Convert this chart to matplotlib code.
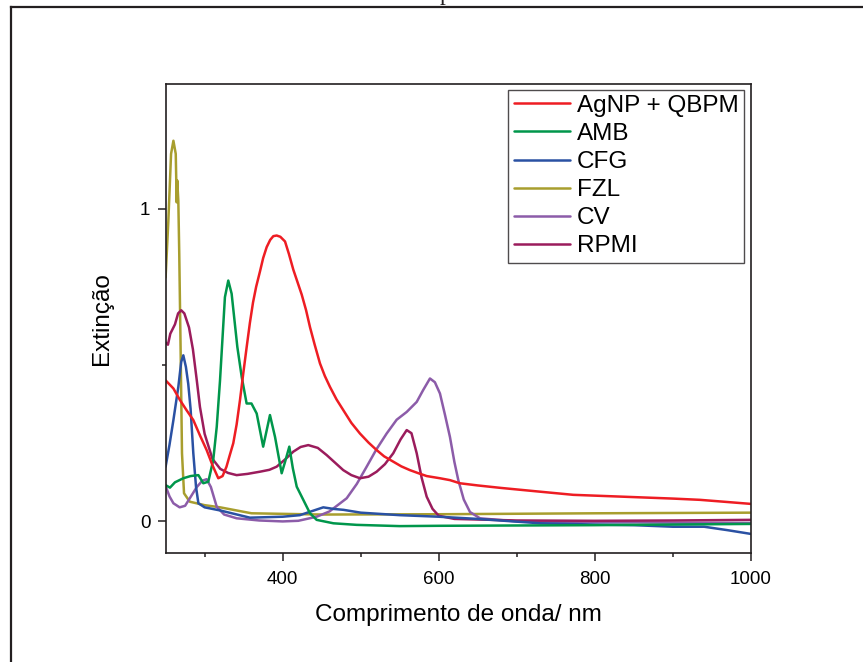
import matplotlib
matplotlib.use("Agg")
import matplotlib.pyplot as plt
from matplotlib.lines import Line2D
from matplotlib.ticker import MultipleLocator

plt.rcParams['font.family'] = ['Liberation Sans', 'DejaVu Sans']

# ---- data ----
agnp_x = [250, 260, 268.4, 277, 285.5, 294, 302.6, 310, 317.5, 323, 328, 332, 336.7, 341, 345.3, 349.5,
          354, 358, 362, 366, 371, 375, 379.5, 384, 388, 392.3, 397, 403, 408, 413.6, 419, 424.4, 430,
          435, 441, 447.8, 454, 460.6, 469, 477.6, 488, 499, 510, 520.4, 530, 541.7, 552, 563, 574,
          584.5, 601.5, 614.3, 627, 650, 680, 730, 772.3, 815, 857.7, 900, 934.6, 965, 1000]
agnp_y = [0.451, 0.425, 0.388, 0.355, 0.324, 0.275, 0.228, 0.18, 0.138, 0.145, 0.175, 0.21, 0.25, 0.31,
          0.388, 0.473, 0.56, 0.635, 0.70, 0.75, 0.80, 0.842, 0.877, 0.9, 0.912, 0.914, 0.91, 0.895, 0.855,
          0.805, 0.765, 0.725, 0.675, 0.621, 0.565, 0.505, 0.465, 0.43, 0.39, 0.356, 0.315, 0.281, 0.252,
          0.228, 0.208, 0.191, 0.176, 0.164, 0.154, 0.145, 0.138, 0.132, 0.122, 0.115, 0.107, 0.095, 0.085,
          0.081, 0.077, 0.073, 0.069, 0.063, 0.056]

amb_x = [250, 255.6, 262, 272.7, 282, 292, 298.3, 304.7, 311, 315.5, 319.7, 326, 330.3, 334.6, 341.9,
         347.5, 353.8, 360, 366.7, 375, 383.7, 390.2, 398.7, 403, 408.5, 413, 418, 426.4, 435, 443.5,
         465, 494.8, 550, 600, 700, 800, 900, 1000]
amb_y = [0.116, 0.108, 0.125, 0.138, 0.145, 0.148, 0.122, 0.127, 0.196, 0.302, 0.45, 0.717, 0.77, 0.728,
         0.558, 0.462, 0.377, 0.377, 0.345, 0.239, 0.34, 0.27, 0.154, 0.19, 0.239, 0.17, 0.111, 0.069,
         0.026, 0.005, -0.006, -0.011, -0.015, -0.014, -0.013, -0.012, -0.01, -0.008]

cfg_x = [250, 255, 260, 266.3, 270, 272.7, 276, 279, 282, 285.5, 289, 292, 300, 320, 358, 400, 422,
         440, 452, 465, 478, 500, 550, 600, 650, 730, 800, 850, 900, 940, 970, 1000]
cfg_y = [0.175, 0.245, 0.324, 0.43, 0.51, 0.531, 0.494, 0.44, 0.36, 0.218, 0.11, 0.058, 0.045, 0.035,
         0.012, 0.015, 0.02, 0.035, 0.045, 0.04, 0.037, 0.028, 0.02, 0.015, 0.008, -0.006, -0.01, -0.012,
         -0.017, -0.017, -0.028, -0.04]

fzl_x = [250, 253.5, 257, 260, 263, 264.2, 264.9, 266.3, 267.5, 269.3, 271, 273.6, 281, 300, 320,
         360, 450, 600, 800, 1000]
fzl_y = [0.78, 0.96, 1.175, 1.217, 1.175, 1.02, 1.09, 1.025, 0.855, 0.537, 0.218, 0.09, 0.063, 0.052,
         0.045, 0.026, 0.022, 0.023, 0.026, 0.028]

cv_x = [250, 255, 260, 268, 275, 280, 290, 297, 302.6, 308, 315.5, 325, 341, 370, 400, 420, 443.5,
        460, 482, 495, 507.6, 520, 533.2, 546, 558.9, 571.7, 580, 588.7, 595, 601.5, 608, 614.3, 620,
        625, 632, 640, 652.8, 700, 800, 900, 1000]
cv_y = [0.113, 0.08, 0.058, 0.045, 0.05, 0.07, 0.11, 0.13, 0.135, 0.11, 0.047, 0.022, 0.01, 0.003, 0.0,
        0.002, 0.015, 0.032, 0.074, 0.12, 0.175, 0.23, 0.281, 0.325, 0.35, 0.382, 0.42, 0.457, 0.445,
        0.409, 0.34, 0.27, 0.19, 0.132, 0.07, 0.03, 0.01, 0.0, -0.002, -0.004, -0.005]

rpmi_x = [250, 253, 256, 262, 266, 270, 274, 280, 285, 290, 294, 300, 310, 320, 330, 341, 355, 371,
          383, 392.3, 403, 413.6, 423, 432.8, 445, 456.4, 467, 477.6, 488, 499, 510, 520.4, 531, 541.7,
          551, 558.9, 565, 571.7, 578, 584.5, 592, 600, 620, 700, 800, 900, 1000]
rpmi_y = [0.572, 0.565, 0.6, 0.63, 0.665, 0.675, 0.665, 0.62, 0.55, 0.45, 0.366, 0.28, 0.2, 0.168,
          0.155, 0.148, 0.152, 0.159, 0.165, 0.175, 0.198, 0.223, 0.238, 0.244, 0.235, 0.212, 0.188,
          0.164, 0.148, 0.138, 0.143, 0.159, 0.183, 0.218, 0.262, 0.292, 0.282, 0.218, 0.14, 0.079,
          0.04, 0.018, 0.008, 0.003, 0.002, 0.003, 0.005]

series_labels = ["AgNP + QBPM", "AMB", "CFG", "FZL", "CV", "RPMI"]
series_colors = ["#EE1D23", "#00964B", "#2A51A3", "#A89E2E", "#8C5CA9", "#9B1C5C"]

x_ticks_major = [400, 600, 800, 1000]
y_ticks_major = [0, 1]

# ---- figure ----
W, H = 863, 662
fig = plt.figure(figsize=(W / 100, H / 100), dpi=100)
ax = fig.add_axes([165.6 / W, 1 - 552.7 / H, (751 - 165.6) / W, (552.7 - 83.5) / H])

data = [(agnp_x, agnp_y), (amb_x, amb_y), (cfg_x, cfg_y), (fzl_x, fzl_y), (cv_x, cv_y), (rpmi_x, rpmi_y)]
order = [3, 4, 5, 2, 1, 0]
handles = {}
for i in order:
    xs, ys = data[i]
    ln, = ax.plot(xs, ys, color=series_colors[i], lw=1.8, label=series_labels[i],
                  solid_joinstyle='round', solid_capstyle='round')
    handles[i] = ln

ax.set_xlim(250, 1000)
ax.set_ylim(-0.1, 1.4)
ax.set_xticks(x_ticks_major)
ax.set_yticks(y_ticks_major)
ax.xaxis.set_minor_locator(MultipleLocator(100))
ax.yaxis.set_minor_locator(MultipleLocator(0.5))
ax.tick_params(which='both', direction='out', top=False, right=False, color='#231F20', width=1.1)
ax.tick_params(which='major', length=6, labelsize=13.5)
ax.tick_params(axis='x', which='major', pad=7)
ax.tick_params(axis='y', which='major', pad=5)
ax.tick_params(which='minor', length=3)
for s in ax.spines.values():
    s.set_linewidth(1.2)
    s.set_color('#231F20')

ax.set_xlabel("Comprimento de onda/ nm", fontsize=17.5, labelpad=12)
ax.set_ylabel("Extinção", fontsize=17.5, labelpad=19)

leg = ax.legend([handles[i] for i in range(6)], series_labels,
                loc='upper right', bbox_to_anchor=((744 - 165.6) / 585.4, (552.7 - 89.5) / 469.2),
                borderaxespad=0, fontsize=17.5, frameon=True, fancybox=False, shadow=False,
                handlelength=2.3, handletextpad=0.3, labelspacing=0.25, borderpad=0.22)
leg.get_frame().set_edgecolor('#231F20')
leg.get_frame().set_linewidth(1.0)

# outer frame lines (figure border partially visible)
fig.add_artist(Line2D([11 / W, 11 / W], [0, 1 - 7 / H], transform=fig.transFigure, color='#231F20', lw=1.6))
fig.add_artist(Line2D([11 / W, 1], [1 - 7 / H, 1 - 7 / H], transform=fig.transFigure, color='#231F20', lw=1.6))
# cut-off title fragment at the top
fig.text(445 / W, 1.0, "p", fontsize=17, family=['Liberation Serif', 'DejaVu Serif'],
         ha='center', va='baseline', color='#231F20')

fig.savefig("out.png", dpi=100)
